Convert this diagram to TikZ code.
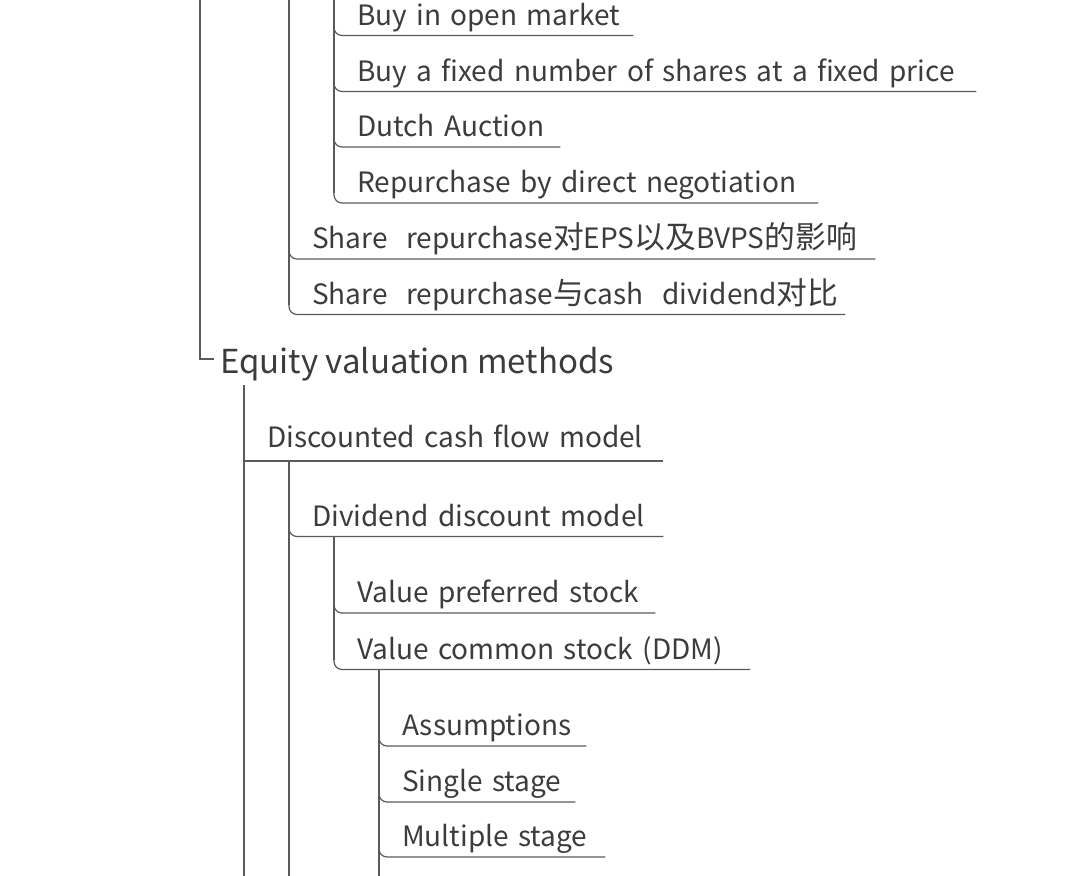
\documentclass[tikz,border=0pt]{standalone}
\usepackage{fontspec}
\setmainfont{Noto Sans CJK SC}
\newfontfamily\cjk[Scale=1.1]{Noto Sans CJK SC}
\usepackage{tikz}
\usetikzlibrary{positioning, calc}

\definecolor{txtgray}{HTML}{3C3C3C}
\definecolor{linegray}{HTML}{5A5A5A}

\tikzset{
  item/.style={anchor=south west, inner xsep=0pt, inner ysep=0pt, text depth=10pt,
    text width=#1, align=left, text=txtgray, font=\fontsize{28}{32}\selectfont},
  trunk/.style={draw=linegray, line width=1.2pt},
  branch/.style={trunk, rounded corners=8pt},
}

\begin{document}
\begin{tikzpicture}[x=1pt, y=-1pt]
            \useasboundingbox (0,0) rectangle (1080,876);

            % Trunks cut off at the top and bottom
            \coordinate (t0) at (200,0);
            \coordinate (t1) at (289,0);
            \coordinate (t2) at (334,0);
            \coordinate (bot) at (0,876);

            % Ways of repurchase
            \node[item=276pt] (open)  at (357,35.5) {Buy in open market};
            \node[item=619pt] (fixed) at (357,91.5) {Buy a fixed number of shares at a fixed price};
            \node[item=203pt] (dutch) at (357,147) {Dutch Auction};
            \node[item=461pt] (nego)  at (357,203) {Repurchase by direct negotiation};
            \draw[trunk] (t2) -- ([yshift=10pt]t2 |- nego.south);
            \foreach \n in {open, fixed, dutch, nego}
              \draw[branch] ([yshift=20pt]t2 |- \n.south) -- (t2 |- \n.south) -- (\n.south east);

            % Share repurchase
            \node[item=563pt] (eps) at (312,259) {Share~ repurchase{\cjk 对}EPS{\cjk 以及}BVPS{\cjk 的影响}};
            \node[item=533pt] (cmp) at (312,314.5) {Share~ repurchase{\cjk 与}cash~ dividend{\cjk 对比}};
            \draw[trunk] (t1) -- ([yshift=10pt]t1 |- cmp.south);
            \foreach \n in {eps, cmp}
              \draw[branch] ([yshift=20pt]t1 |- \n.south) -- (t1 |- \n.south) -- (\n.south east);

            % Equity valuation methods
            \coordinate (eqj) at (214,359);
            \node[anchor=base west, inner sep=6pt, text=txtgray, font=\fontsize{33}{38}\selectfont] (eq) at (214,373) {Equity valuation methods};
            \draw[trunk] (t0) -- (t0 |- eqj) -- (eqj);
            \coordinate (u0) at (244,385);
            \draw[trunk] (u0) -- (u0 |- bot);

            % Discounted cash flow model
            \node[item=396pt, text depth=13pt] (dcf) at (267,461) {Discounted cash flow model};
            \draw[trunk] (u0 |- dcf.south) -- (dcf.south east);
            \coordinate (u1) at (289,461);
            \draw[trunk] (u1) -- (u1 |- bot);

            % Dividend discount model
            \node[item=351pt] (ddm) at (312,536.5) {Dividend discount model};
            \draw[branch] ([yshift=20pt]u1 |- ddm.south) -- (u1 |- ddm.south) -- (ddm.south east);
            \coordinate (u2) at (334,536.5);

            \node[item=298pt] (pref) at (357,613) {Value preferred stock};
            \node[item=393pt] (comm) at (357,669.5) {Value common stock (DDM)};
            \draw[trunk] (u2) -- ([yshift=10pt]u2 |- comm.south);
            \foreach \n in {pref, comm}
              \draw[branch] ([yshift=20pt]u2 |- \n.south) -- (u2 |- \n.south) -- (\n.south east);

            % DDM stages
            \coordinate (u3) at (379,669.5);
            \node[item=184pt] (assum)  at (402,746) {Assumptions};
            \node[item=173pt] (single) at (402,802) {Single stage};
            \node[item=203pt] (multi)  at (402,857) {Multiple stage};
            \draw[trunk] (u3) -- (u3 |- bot);
            \foreach \n in {assum, single, multi}
              \draw[branch] ([yshift=20pt]u3 |- \n.south) -- (u3 |- \n.south) -- (\n.south east);
\end{tikzpicture}
\end{document}
